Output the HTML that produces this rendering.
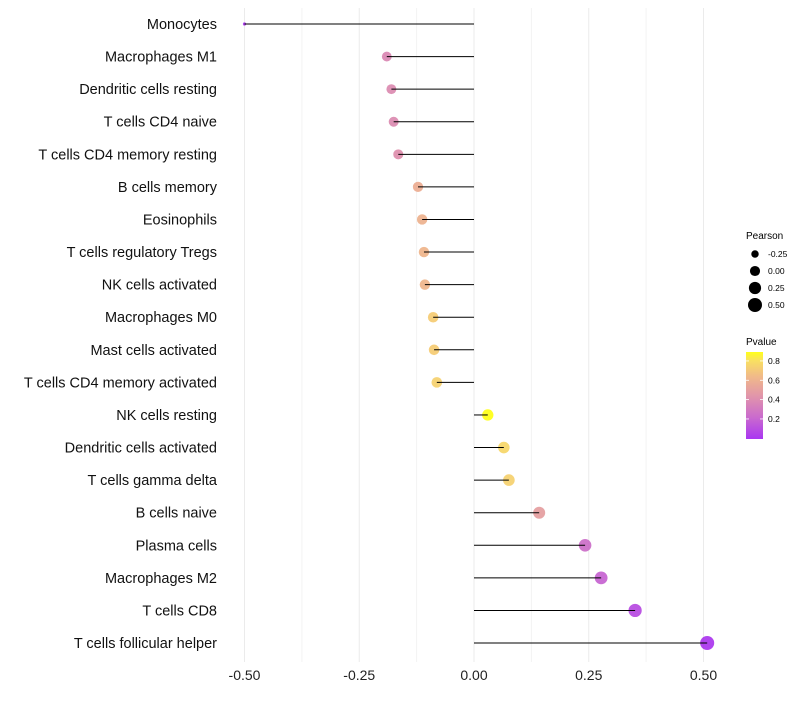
<!DOCTYPE html>
<html><head><meta charset="utf-8"><style>
body{margin:0;background:#fff;font-family:"Liberation Sans",sans-serif;}
svg text{font-family:"Liberation Sans",sans-serif;}
</style></head><body>
<svg id="chart" width="800" height="700" xmlns="http://www.w3.org/2000/svg">
<defs><linearGradient id="pg" x1="0" y1="1" x2="0" y2="0">
<stop offset="0" stop-color="#A020F0"/><stop offset="0.25" stop-color="#C45AC8"/><stop offset="0.5" stop-color="#DE8AA0"/><stop offset="0.72" stop-color="#EFB27C"/><stop offset="0.9" stop-color="#F8DC50"/><stop offset="1" stop-color="#FFFF00"/></linearGradient></defs>
<g id="grid"></g><g id="marks"></g><g id="labels"></g><g id="ticks"></g>
<g>
<text x="746" y="239" font-size="10">Pearson</text>
<g id="sizeleg"></g>
<text x="746" y="345" font-size="10">Pvalue</text>
<rect x="746" y="352" width="17" height="87" fill="url(#pg)" opacity="0.9"/>
<g id="cbticks"></g>
</g>
</svg>
<script>
const cells=["Monocytes","Macrophages M1","Dendritic cells resting","T cells CD4 naive","T cells CD4 memory resting","B cells memory","Eosinophils","T cells regulatory  Tregs","NK cells activated","Macrophages M0","Mast cells activated","T cells CD4 memory activated","NK cells resting","Dendritic cells activated","T cells gamma delta","B cells naive","Plasma cells","Macrophages M2","T cells CD8","T cells follicular helper"];
const pearson=[-0.50,-0.19,-0.18,-0.175,-0.165,-0.122,-0.113,-0.109,-0.107,-0.089,-0.087,-0.081,0.03,0.065,0.076,0.142,0.242,0.277,0.351,0.508];
const pvalue=[0.02,0.38,0.40,0.40,0.42,0.58,0.60,0.62,0.62,0.72,0.72,0.74,0.89,0.76,0.74,0.50,0.25,0.20,0.10,0.02];
const xTicks=[-0.5,-0.25,0,0.25,0.5];
const xTickLabels=["-0.50","-0.25","0.00","0.25","0.50"];
const sizeLegend=[-0.25,0,0.25,0.5];
const sizeLegendLabels=["-0.25","0.00","0.25","0.50"];
const cbTicks=[0.2,0.4,0.6,0.8];
const NS="http://www.w3.org/2000/svg";
const X=v=>474+v*459;
const Y=i=>24+i*32.58;
const R=v=>Math.sqrt(Math.max(1.5,25.6+46.75*v));
const RP=v=>v<-0.45?1.6:Math.sqrt(Math.max(2,31+36*v));
const stops=[[0,[160,32,240]],[0.22,[196,90,200]],[0.45,[222,138,160]],[0.64,[239,178,124]],[0.8,[248,220,80]],[0.89,[255,255,0]]];
function col(p){for(let i=1;i<stops.length;i++){if(p<=stops[i][0]){const a=stops[i-1],b=stops[i],t=(p-a[0])/(b[0]-a[0]);return 'rgb('+a[1].map((c,k)=>Math.round(c+(b[1][k]-c)*t)).join(',')+')';}}return 'rgb(255,255,0)';}
function mk(t,a,p){const e=document.createElementNS(NS,t);for(const k in a)e.setAttribute(k,a[k]);p.appendChild(e);return e;}
const grid=document.getElementById('grid');
for(let v=-0.5;v<=0.5001;v+=0.125){const l=mk('line',{x1:X(v),x2:X(v),y1:8,y2:662,stroke:Math.abs((v*4)%1)<1e-6?'#EBEBEB':'#F3F3F3','stroke-width':1},grid);

}
const marks=document.getElementById('marks'),labels=document.getElementById('labels');
cells.forEach((c,i)=>{
const pt=mk('circle',{cx:X(pearson[i]),cy:Y(i),r:RP(pearson[i]),fill:col(pvalue[i]),opacity:0.85},marks);


const ln=mk('line',{x1:X(0),x2:X(pearson[i]),y1:Y(i),y2:Y(i),stroke:'#000','stroke-width':1},marks);


const t=mk('text',{x:217,y:Y(i)+5,'text-anchor':'end','font-size':14.5,fill:'#111'},labels);t.textContent=c;


});
const ticks=document.getElementById('ticks');
xTicks.forEach((v,i)=>{const t=mk('text',{x:X(v),y:680,'text-anchor':'middle','font-size':14,fill:'#222'},ticks);t.textContent=xTickLabels[i];

});
const sl=document.getElementById('sizeleg');
sizeLegend.forEach((v,i)=>{const y=254+i*17;const c=mk('circle',{cx:755,cy:y,r:R(v),fill:'#000'},sl);


const t=mk('text',{x:768,y:y+3,'font-size':8.5},sl);t.textContent=sizeLegendLabels[i];

});
const cb=document.getElementById('cbticks');
cbTicks.forEach(v=>{const y=438.3-v*96.7;mk('line',{x1:746,x2:749,y1:y,y2:y,stroke:'#fff','stroke-width':0.8},cb);mk('line',{x1:760,x2:763,y1:y,y2:y,stroke:'#fff','stroke-width':0.8},cb);
const t=mk('text',{x:768,y:y+3,'font-size':8.5},cb);t.textContent=v.toFixed(1);

});
</script>
</body></html>
